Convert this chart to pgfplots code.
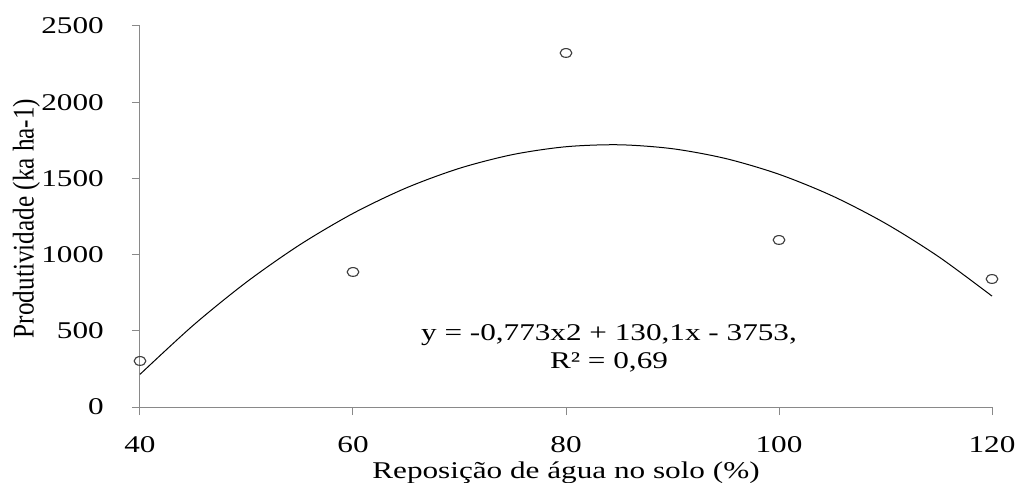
\documentclass[border=0pt]{standalone}
\usepackage{fontspec}
\setmainfont{Liberation Serif}[FakeStretch=1.3]
\newfontfamily\ylabfont{Liberation Serif}[FakeStretch=0.84]
\usepackage{pgfplots}
\pgfplotsset{compat=1.18}
\definecolor{axgray}{RGB}{137,137,137}
\definecolor{mkgray}{RGB}{60,60,60}
\begin{document}
\begin{tikzpicture}
\begin{axis}[
  at={(0,0)}, anchor=south west,
  scale only axis, width=852bp, height=381bp,
  xmin=40, xmax=120, ymin=0, ymax=2500,
  axis lines=left,
  axis line style={-, draw=axgray, line width=1bp},
  xtick={40,60,80,100,120}, ytick={0,500,1000,1500,2000,2500},
  tick align=outside, major tick length=8bp,
  tick style={draw=axgray, line width=1bp},
  /pgf/number format/assume math mode=true,
  /pgf/number format/1000 sep={},
  ticklabel style={font=\fontsize{24bp}{28bp}\selectfont, text=black},
  yticklabel style={inner sep=0pt, anchor=east, xshift=-28bp},
  xticklabel style={inner sep=0pt, anchor=north, yshift=-21bp},
  xlabel={Reposição de água no solo (\%)},
  ylabel={Produtividade (ka ha-1)},
  every axis x label/.style={at={(axis description cs:0.5,0)}, anchor=base, yshift=-71bp, font=\fontsize{24bp}{28bp}\selectfont},
  every axis y label/.style={at={(axis description cs:0,0.495)}, anchor=center, rotate=90, yshift=113.5bp, font=\ylabfont\fontsize{30bp}{32bp}\selectfont},
  clip=false,
]
\addplot[black, line width=1bp, smooth] coordinates {
(40,214.2) (45,536.2) (50,819.5) (55,1064.2) (60,1270.2) (65,1437.6)
(70,1566.3) (75,1656.4) (80,1707.8) (85,1720.6) (90,1694.7) (95,1630.2)
(100,1527.0) (105,1385.2) (110,1204.7) (115,985.6) (120,727.8)};
\addplot[only marks, mark=o, mark size=4.4bp, mark options={xscale=1.33, draw=mkgray, line width=1.1bp}] coordinates {
(40,302) (60,886) (80,2323) (100,1096) (120,840)};
\node[anchor=base, font=\fontsize{24bp}{28bp}\selectfont] at (axis cs:84.04,439.6) {y = -0,773x2 + 130,1x - 3753,};
\node[anchor=base, font=\fontsize{24bp}{28bp}\selectfont] at (axis cs:84.04,255.9) {R² = 0,69};
\end{axis}
\pgfresetboundingbox
\path (-140bp,-76bp) rectangle (877bp,407bp);
\end{tikzpicture}
\end{document}
